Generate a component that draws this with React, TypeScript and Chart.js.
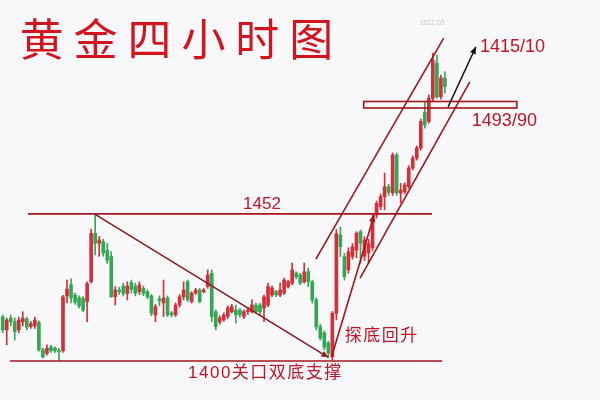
import React, { useEffect, useRef } from 'react';
import { Chart, registerables } from 'chart.js';

Chart.register(...registerables);

// ---- Candle data (4-hour gold), index = candle number ----
const openPrices = [
  1415.6, 1411.0, 1415.2, 1413.9, 1411.0, 1413.8, 1414.8, 1412.2, 1412.4, 1413.6,
  1403.9, 1402.7, 1405.0, 1404.5, 1403.6, 1403.6, 1423.0, 1426.9, 1423.3, 1422.3,
  1422.2, 1421.0, 1428.0, 1445.1, 1441.6, 1442.2, 1439.2, 1436.9, 1422.7, 1425.1,
  1426.5, 1423.9, 1427.7, 1426.5, 1424.5, 1425.7, 1424.5, 1423.0, 1416.3, 1422.0,
  1420.5, 1422.3, 1417.0, 1416.3, 1419.8, 1422.7, 1428.0, 1421.0, 1424.0, 1425.1,
  1424.5, 1426.3, 1431.0, 1417.4, 1413.8, 1414.5, 1415.7, 1417.4, 1418.0, 1418.0,
  1415.7, 1417.4, 1417.4, 1419.8, 1419.8, 1418.7, 1419.8, 1423.3, 1424.5, 1423.3,
  1424.0, 1426.3, 1427.5, 1431.0, 1430.4, 1428.0, 1431.6, 1428.0, 1421.6, 1412.1,
  1409.9, 1406.4, 1401.5, 1416.9, 1444.5, 1436.9, 1432.2, 1436.9, 1439.2, 1445.7,
  1437.0, 1438.2, 1440.0, 1451.6, 1454.5, 1458.1, 1461.6, 1459.4, 1472.8, 1459.3,
  1459.8, 1461.6, 1468.2, 1471.7, 1475.3, 1488.0, 1484.6, 1492.8, 1505.3, 1493.4,
  1500.0,
];
const highPrices = [
  1416.2, 1415.2, 1416.2, 1415.2, 1415.5, 1417.4, 1415.5, 1414.0, 1415.5, 1414.2,
  1404.5, 1405.7, 1405.5, 1405.0, 1404.5, 1423.2, 1428.6, 1429.0, 1424.0, 1423.0,
  1422.7, 1428.0, 1446.5, 1451.6, 1444.0, 1443.0, 1441.6, 1438.6, 1426.3, 1426.0,
  1427.5, 1428.0, 1428.6, 1427.5, 1428.0, 1426.5, 1425.1, 1423.5, 1420.0, 1423.0,
  1428.6, 1423.0, 1417.5, 1420.5, 1423.5, 1428.0, 1428.6, 1424.5, 1425.7, 1425.7,
  1425.7, 1432.2, 1432.2, 1418.0, 1416.0, 1417.0, 1419.5, 1420.0, 1419.8, 1418.5,
  1418.0, 1419.0, 1421.6, 1420.5, 1420.5, 1423.3, 1427.5, 1426.5, 1425.0, 1427.5,
  1429.3, 1428.6, 1434.6, 1431.5, 1431.0, 1434.6, 1432.9, 1428.6, 1422.3, 1413.0,
  1410.6, 1407.0, 1417.5, 1446.5, 1447.3, 1438.0, 1440.0, 1441.5, 1445.7, 1446.3,
  1444.0, 1443.0, 1451.5, 1456.5, 1459.0, 1466.4, 1462.5, 1473.5, 1473.5, 1462.8,
  1463.0, 1469.0, 1472.5, 1476.0, 1485.5, 1491.6, 1494.0, 1508.8, 1508.1, 1501.0,
  1502.2,
];
const lowPrices = [
  1410.0, 1405.7, 1412.4, 1407.4, 1410.0, 1412.4, 1411.0, 1411.5, 1411.5, 1403.5,
  1401.0, 1402.1, 1403.0, 1403.0, 1400.0, 1403.0, 1420.5, 1420.5, 1420.0, 1418.7,
  1417.4, 1413.9, 1427.5, 1437.5, 1437.0, 1437.0, 1434.5, 1422.5, 1419.8, 1423.5,
  1423.0, 1421.6, 1424.0, 1423.0, 1423.5, 1423.0, 1422.0, 1416.0, 1413.9, 1419.5,
  1415.7, 1415.7, 1415.5, 1415.7, 1419.0, 1421.6, 1421.0, 1420.5, 1423.5, 1420.5,
  1424.0, 1425.7, 1413.9, 1411.0, 1413.0, 1414.0, 1415.0, 1417.0, 1413.5, 1415.5,
  1415.0, 1416.5, 1417.0, 1417.0, 1416.5, 1413.9, 1419.2, 1422.7, 1422.7, 1422.7,
  1423.5, 1425.7, 1426.9, 1429.0, 1427.0, 1427.5, 1426.3, 1420.5, 1411.0, 1407.4,
  1404.0, 1401.2, 1400.3, 1414.5, 1436.9, 1428.6, 1431.0, 1436.0, 1436.5, 1434.6,
  1435.5, 1434.6, 1439.0, 1450.5, 1453.5, 1453.4, 1458.5, 1458.5, 1458.5, 1455.8,
  1459.0, 1461.0, 1467.5, 1471.0, 1474.5, 1482.3, 1484.0, 1492.0, 1492.9, 1492.5,
  1494.6,
];
const closePrices = [
  1411.0, 1414.5, 1413.8, 1410.4, 1414.5, 1415.2, 1412.0, 1413.2, 1414.5, 1403.9,
  1401.5, 1404.5, 1403.6, 1403.6, 1403.2, 1422.7, 1425.4, 1422.3, 1420.8, 1419.4,
  1418.0, 1427.4, 1445.1, 1441.6, 1442.8, 1438.1, 1435.7, 1422.7, 1425.1, 1424.5,
  1423.9, 1426.5, 1425.3, 1423.9, 1426.9, 1423.9, 1422.7, 1416.9, 1419.2, 1421.3,
  1422.2, 1416.3, 1416.3, 1419.8, 1422.7, 1425.1, 1421.6, 1424.0, 1425.1, 1421.0,
  1425.1, 1430.4, 1415.7, 1412.1, 1415.2, 1416.3, 1418.7, 1419.2, 1416.3, 1416.3,
  1417.4, 1418.0, 1419.8, 1417.4, 1417.4, 1422.7, 1426.3, 1425.8, 1423.3, 1425.1,
  1428.6, 1428.0, 1432.2, 1429.8, 1427.5, 1431.5, 1428.0, 1421.6, 1412.1, 1408.1,
  1404.9, 1402.8, 1416.9, 1445.0, 1440.4, 1429.8, 1438.6, 1440.4, 1445.2, 1441.6,
  1442.8, 1441.6, 1450.5, 1455.7, 1458.1, 1461.6, 1459.6, 1472.8, 1459.4, 1460.4,
  1462.2, 1468.2, 1471.7, 1475.3, 1484.6, 1483.4, 1492.9, 1506.4, 1493.4, 1500.0,
  1497.0,
];

// ---- Key levels and annotation anchors (candle index, price) ----
const supportLevel = 1400;
const resistanceLevel = 1452;
const supportSpan = [1.8, 109.3];
const resistanceSpan = [6.3, 106.8];
const downTrend = [[23.0, 1451.8], [81.0, 1401.3]];
const reboundArrow = [[81.8, 1401.4], [92.4, 1451.6]];
const channelUpper = [[77.9, 1436.0], [109.7, 1514.1]];
const channelLower = [[88.9, 1429.3], [116.2, 1498.6]];
const targetArrow = [[110.8, 1489.8], [117.7, 1511.0]];
const zoneBox = [[89.8, 1491.7], [127.9, 1489.4]];

const titleText = '黄金四小时图';
const labelResistance = '1452';
const labelSupport = '1400关口双底支撑';
const labelRebound = '探底回升';
const labelTarget = '1415/10';
const labelZone = '1493/90';
const labelMax = '1512.03';

const RED = '#d4303a';
const GREEN = '#33a852';
const LINE = '#a3141d';
const TEXT = '#c3122a';

export default function App() {
  const ref = useRef<HTMLCanvasElement | null>(null);

  useEffect(() => {
    if (!ref.current) return;
    const idx = openPrices.map((_, i) => i);
    const colors = idx.map((i) => (closePrices[i] >= openPrices[i] ? RED : GREEN));

    const annotate = {
      id: 'annotate',
      beforeDraw(chart: any) {
        const c = chart.ctx;
        c.save();
        c.fillStyle = '#f9f9fb';
        c.fillRect(0, 0, chart.width, chart.height);
        c.restore();
      },
      afterDatasetsDraw(chart: any) {
        const c: CanvasRenderingContext2D = chart.ctx;
        const xs = chart.scales.x;
        const ys = chart.scales.y;
        const P = (pt: number[]) => [xs.getPixelForValue(pt[0]), ys.getPixelForValue(pt[1])];

        const line = (a: number[], b: number[], color: string, w: number) => {
          const [x1, y1] = P(a);
          const [x2, y2] = P(b);
          c.strokeStyle = color;
          c.lineWidth = w;
          c.beginPath();
          c.moveTo(x1, y1);
          c.lineTo(x2, y2);
          c.stroke();
        };
        const arrow = (a: number[], b: number[], color: string, w: number) => {
          line(a, b, color, w);
          const [x1, y1] = P(a);
          const [x2, y2] = P(b);
          const ang = Math.atan2(y2 - y1, x2 - x1);
          const L = 7, H = 3.2;
          c.fillStyle = color;
          c.beginPath();
          c.moveTo(x2, y2);
          c.lineTo(x2 - L * Math.cos(ang) + H * Math.sin(ang), y2 - L * Math.sin(ang) - H * Math.cos(ang));
          c.lineTo(x2 - L * Math.cos(ang) - H * Math.sin(ang), y2 - L * Math.sin(ang) + H * Math.cos(ang));
          c.closePath();
          c.fill();
        };

        c.save();
        c.lineCap = 'butt';
        line([resistanceSpan[0], resistanceLevel], [resistanceSpan[1], resistanceLevel], LINE, 1.6);
        line([supportSpan[0], supportLevel], [supportSpan[1], supportLevel], LINE, 1.6);
        arrow(downTrend[0], downTrend[1], '#8c1a1f', 1.6);
        line(channelUpper[0], channelUpper[1], LINE, 1.6);
        line(channelLower[0], channelLower[1], LINE, 1.6);
        arrow(reboundArrow[0], reboundArrow[1], LINE, 1.6);

        const [bx1, by1] = P(zoneBox[0]);
        const [bx2, by2] = P(zoneBox[1]);
        c.strokeStyle = LINE;
        c.lineWidth = 1.6;
        c.strokeRect(bx1, by1, bx2 - bx1, by2 - by1);

        arrow(targetArrow[0], targetArrow[1], '#111111', 1.4);

        // labels
        const spaced = (text: string, x: number, y: number, gap: number) => {
          let cx = x;
          for (const ch of Array.from(text)) {
            c.fillText(ch, cx, y);
            cx += c.measureText(ch).width + gap;
          }
        };
        c.fillStyle = TEXT;
        c.textBaseline = 'middle';
        c.font = '17px "Liberation Sans", "Noto Sans CJK SC", sans-serif';
        c.textAlign = 'center';
        {
          const [x, y] = P([64.5, 1455.5]);
          c.fillText(labelResistance, x, y);
        }
        c.textAlign = 'left';
        {
          const [x, y] = P([46.1, 1395.8]);
          spaced(labelSupport, x, y, 1.5);
        }
        {
          const [x, y] = P([85.1, 1408.9]);
          spaced(labelRebound, x, y, 1.5);
        }
        c.font = '18px "Liberation Sans", sans-serif';
        {
          const [x, y] = P([118.7, 1510.9]);
          c.fillText(labelTarget, x, y);
        }
        {
          const [x, y] = P([116.7, 1484.9]);
          c.fillText(labelZone, x, y);
        }
        c.fillStyle = '#c9c9cc';
        c.font = '7px "Liberation Sans", sans-serif';
        c.textAlign = 'center';
        {
          const [x, y] = P([106.8, 1519.3]);
          c.fillText(labelMax, x, y);
        }

        // title
        c.fillStyle = '#d3141e';
        c.font = '44px "Noto Sans CJK SC", sans-serif';
        c.textAlign = 'center';
        Array.from(titleText).forEach((ch, k) => {
          c.fillText(ch, 41.7 + 53.9 * k, 39);
        });
        c.restore();
      },
    };

    const chart = new Chart(ref.current, {
      type: 'bar',
      data: {
        datasets: [
          {
            data: idx.map((i) => ({ x: i, y: [lowPrices[i], highPrices[i]] })) as any,
            backgroundColor: colors,
            barThickness: 1,
            grouped: false,
            borderWidth: 0,
          } as any,
          {
            data: idx.map((i) => ({
              x: i,
              y: [Math.min(openPrices[i], closePrices[i]), Math.max(openPrices[i], closePrices[i])],
            })) as any,
            backgroundColor: colors,
            barThickness: 3,
            grouped: false,
            borderWidth: 0,
            minBarLength: 1,
          } as any,
        ],
      },
      options: {
        responsive: false,
        animation: false,
        layout: { padding: 0 },
        plugins: { legend: { display: false }, tooltip: { enabled: false } },
        scales: {
          x: { type: 'linear', display: false, offset: false, min: -0.672, max: 148.58 },
          y: { display: false, min: 1386.22, max: 1527.56 },
        },
      },
      plugins: [annotate],
    });
    return () => chart.destroy();
  }, []);

  return (
    <div style={{ position: 'absolute', left: 0, top: 0, width: 600, height: 400 }}>
      <canvas ref={ref} width={600} height={400} style={{ display: 'block' }} />
    </div>
  );
}
